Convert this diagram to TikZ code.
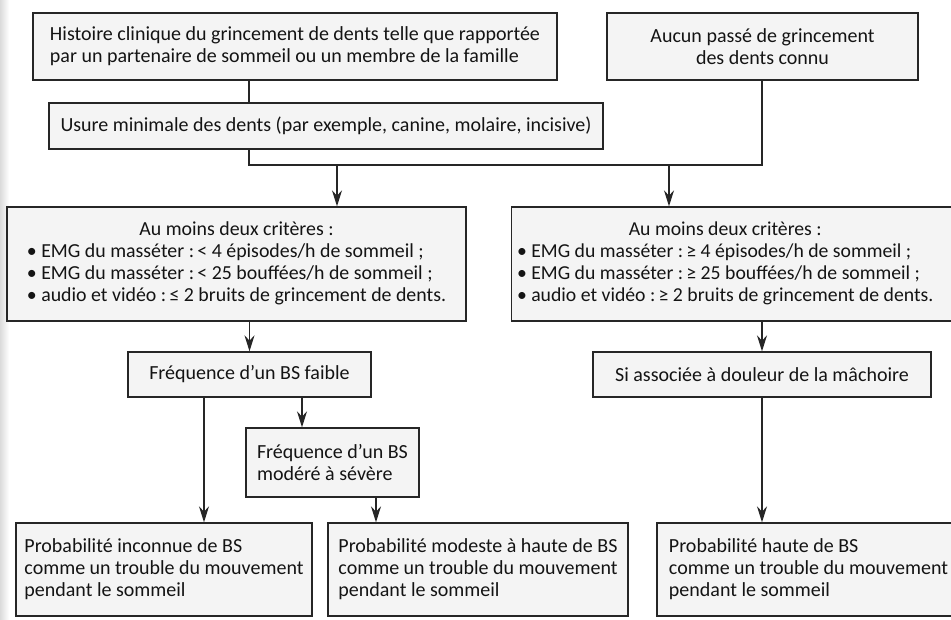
\documentclass[tikz,border=0pt]{standalone}
\usepackage{fontspec}
\setmainfont{Carlito}
\usetikzlibrary{arrows.meta}
\definecolor{ink}{HTML}{262626}
\definecolor{paper}{HTML}{F4F4F4}
\begin{document}
\begin{tikzpicture}[x=0.75pt,y=-0.75pt,
  box/.style={draw=ink, line width=1pt, fill=paper, inner sep=0pt,
    text=black!92, font=\fontsize{15}{16.5}\selectfont},
  critfont/.style={font=\fontsize{#1}{16.5}\selectfont},
  link/.style={draw=ink, line width=1pt, line join=miter},
  arr/.style={link, -{Stealth[length=12pt,width=7.5pt,inset=4pt]}}]
\useasboundingbox (0,0) rectangle (951,620);
\fill[white] (0,0) rectangle (951,620);
% darker gutter along the left edge of the page
\shade[left color=black!14, right color=white] (0,0) rectangle (9,620);

% first row: history / no history
\node[box, minimum width=393pt, minimum height=50.25pt, align=left] (hist) at (295,46.5)
  {Histoire clinique du grincement de dents telle que rapportée\\par un partenaire de sommeil ou un membre de la famille};
\node[box, minimum width=233.25pt, minimum height=50.25pt, align=center] (aucun) at (762.5,46.5)
  {Aucun passé de grincement\\des dents connu};
\node[box, minimum width=415.5pt, minimum height=34.5pt] (usure) at (326,126)
  {Usure minimale des dents (par exemple, canine, molaire, incisive)};

% criteria
\node[box, critfont=14.9, minimum width=344.25pt, minimum height=85.5pt] (critA) at (236.5,264)
  {\begin{tabular}{@{}l@{}}
   \multicolumn{1}{@{}c@{}}{Au moins deux critères :}\\
   • EMG du masséter :\,< 4 épisodes/h de sommeil ;\\
   • EMG du masséter :\,< 25 bouffées/h de sommeil ;\\
   • audio et vidéo :\,≤ 2 bruits de grincement de dents.
   \end{tabular}};
\node[box, critfont=14.8, anchor=west, inner xsep=4pt, minimum height=85.5pt] (critB) at (511,264)
  {\begin{tabular}{@{}l@{}}
   \multicolumn{1}{@{}c@{}}{Au moins deux critères :}\\
   • EMG du masséter :\,≥ 4 épisodes/h de sommeil ;\\
   • EMG du masséter :\,≥ 25 bouffées/h de sommeil ;\\
   • audio et vidéo :\,≥ 2 bruits de grincement de dents.
   \end{tabular}\hspace*{24pt}};

% frequency / pain
\node[box, minimum width=182.25pt, minimum height=33.75pt] (faible) at (249.5,374.5)
  {Fréquence d’un BS faible};
\node[box, minimum width=253.5pt, minimum height=33.75pt] (douleur) at (762,374.5)
  {Si associée à douleur de la mâchoire};
\node[box, minimum width=129.75pt, minimum height=51.75pt, align=left] (modere) at (332.5,462.5)
  {Fréquence d’un BS\\modéré à sévère};

% outcomes
\node[box, minimum width=222pt, minimum height=69.75pt, align=left] (inconnue) at (164,569.5)
  {Probabilité inconnue de BS\\comme un trouble du mouvement\\pendant le sommeil};
\node[box, minimum width=225pt, minimum height=69.75pt, align=left] (modeste) at (478,569.5)
  {Probabilité modeste à haute de BS\\comme un trouble du mouvement\\pendant le sommeil};
\node[box, minimum width=227.25pt, minimum height=69.75pt, align=left] (haute) at (808.5,569.5)
  {Probabilité haute de BS\\comme un trouble du mouvement\\pendant le sommeil};

% connector positions
\coordinate (xL) at (249,0);
\coordinate (jR) at (762,165);
\coordinate (jA) at (337,165);
\coordinate (jB) at (669,165);
\coordinate (xF) at (204,0);
\coordinate (xG) at (302,0);
\coordinate (xH) at (376,0);

\draw[link] (hist.south -| xL) -- (usure.north -| xL);
\draw[link] (usure.south -| xL) |- (jR) -- (aucun.south -| jR);
\draw[arr] (jA) -- (critA.north -| jA);
\draw[arr] (jB) -- (critB.north -| jB);
\draw[arr] (critA.south -| faible.north) -- (faible.north);
\draw[arr] (critB.south -| douleur.north) -- (douleur.north);
\draw[arr] (faible.south -| xF) -- (inconnue.north -| xF);
\draw[arr] (faible.south -| xG) -- (modere.north -| xG);
\draw[arr] (modere.south -| xH) -- (modeste.north -| xH);
\draw[arr] (douleur.south) -- (haute.north -| douleur.south);
\end{tikzpicture}
\end{document}
